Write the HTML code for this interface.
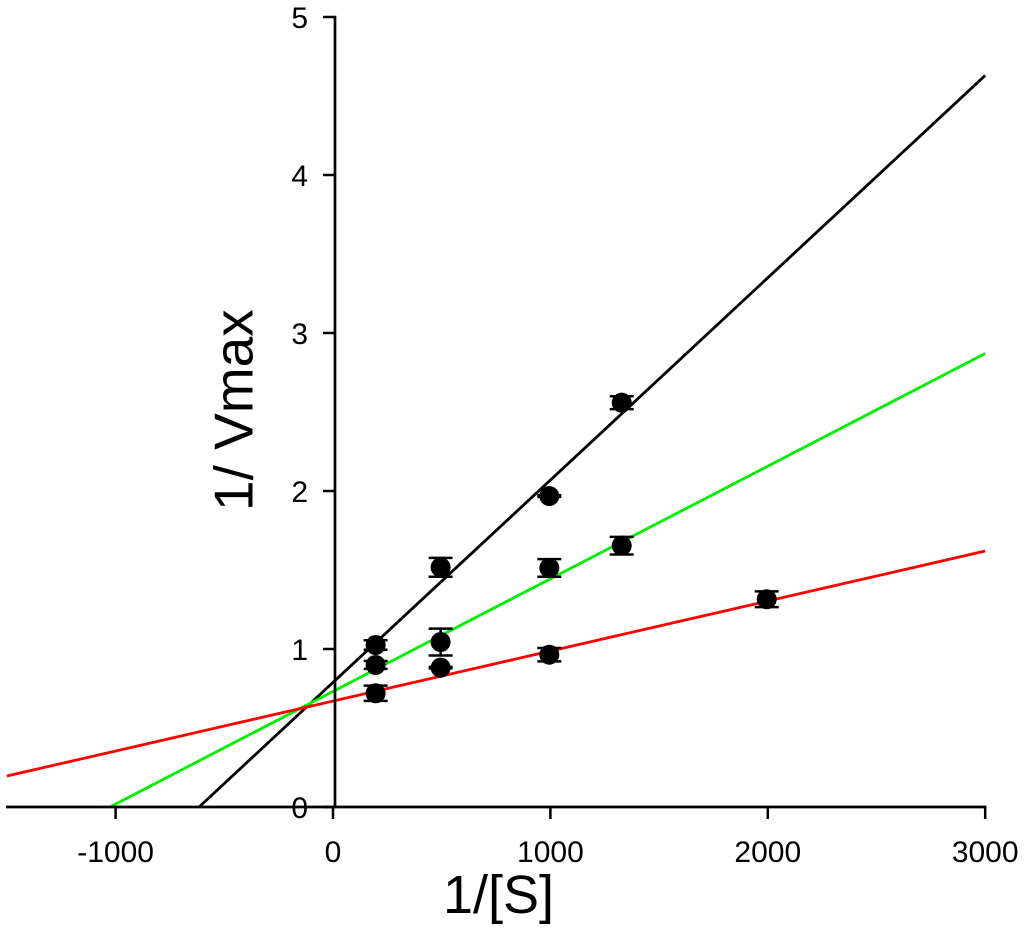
<!DOCTYPE html>
<html>
<head>
<meta charset="utf-8">
<title>Lineweaver-Burk plot</title>
<style>
html,body{margin:0;padding:0;background:#fff;width:1024px;height:931px;overflow:hidden}
svg{display:block}
text{font-family:"Liberation Sans",Arial,sans-serif;fill:#000}
</style>
</head>
<body>
<svg id="chart" xmlns="http://www.w3.org/2000/svg" width="1024" height="931" viewBox="0 0 1024 931"></svg>
<script>
const xTickValues = [-1000, 0, 1000, 2000, 3000];
const yTickValues = [0, 1, 2, 3, 4, 5];
const xTickLabels = ['-1000', '0', '1000', '2000', '3000'];
const yTickLabels = ['0', '1', '2', '3', '4', '5'];
const xAxisTitle = '1/[S]';
const yAxisTitle = '1/ Vmax';

const blackLineX = [-616, 3000];
const blackLineY = [0, 4.63];
const greenLineX = [-1026, 3000];
const greenLineY = [0, 2.87];
const redLineX = [-1500, 3000];
const redLineY = [0.196, 1.62];

const pointX = [196, 196, 196, 495, 495, 495, 995, 995, 995, 1328, 1328, 1995];
const pointY = [1.025, 0.899, 0.72, 1.517, 1.044, 0.882, 1.968, 1.513, 0.964, 2.559, 1.654, 1.315];
const pointErr = [0.03, 0.025, 0.048, 0.06, 0.085, 0.005, 0.005, 0.056, 0.042, 0.041, 0.056, 0.05];

const NS = 'http://www.w3.org/2000/svg';
const svg = document.getElementById('chart');
function sx(v){ return 333 + v * 0.2174; }
function sy(v){ return 807 - v * 158; }
function mk(tag, attrs){
  const el = document.createElementNS(NS, tag);
  for (const k in attrs) el.setAttribute(k, attrs[k]);
  svg.appendChild(el);
  return el;
}

// series lines
const seriesLines = [
  ['black-fit-line', blackLineX, blackLineY, '#000000'],
  ['green-fit-line', greenLineX, greenLineY, '#00ee00'],
  ['red-fit-line', redLineX, redLineY, '#ff0000']
];
seriesLines.forEach(function(s){
  const line = mk('line', {x1: sx(s[1][0]), y1: sy(s[2][0]), x2: sx(s[1][1]), y2: sy(s[2][1]), stroke: s[3], 'stroke-width': 2.8});
  
  
});

// axes
const xAxis = mk('line', {x1: 6, y1: 807, x2: sx(3000) + 1.2, y2: 807, stroke: '#000', 'stroke-width': 2.7});


const yAxis = mk('line', {x1: 335, y1: sy(5) - 1.2, x2: 335, y2: 807, stroke: '#000', 'stroke-width': 2.7});



// x ticks and labels
xTickValues.forEach(function(v, i){
  const t = mk('line', {x1: sx(v), y1: 807, x2: sx(v), y2: 819, stroke: '#000', 'stroke-width': 2.5});
  
  
  const l = mk('text', {x: sx(v), y: 862, 'font-size': 30, 'text-anchor': 'middle'});
  l.textContent = xTickLabels[i];
  
  
});

// y ticks and labels
yTickValues.forEach(function(v, i){
  const t = mk('line', {x1: 323, y1: sy(v), x2: 335, y2: sy(v), stroke: '#000', 'stroke-width': 2.5});
  
  
  const l = mk('text', {x: 308, y: sy(v) + 11, 'font-size': 30, 'text-anchor': 'end'});
  l.textContent = yTickLabels[i];
  
  
});

// error bars and points
pointX.forEach(function(v, i){
  const cx = sx(v);
  const hi = sy(pointY[i] + pointErr[i]);
  const lo = sy(pointY[i] - pointErr[i]);
  const stem = mk('line', {x1: cx, y1: hi, x2: cx, y2: lo, stroke: '#000', 'stroke-width': 2.5});
  
  
  const capTop = mk('line', {x1: cx - 12, y1: hi, x2: cx + 12, y2: hi, stroke: '#000', 'stroke-width': 2.5});
  
  
  const capBottom = mk('line', {x1: cx - 12, y1: lo, x2: cx + 12, y2: lo, stroke: '#000', 'stroke-width': 2.5});
  
  
  const dot = mk('circle', {cx: cx, cy: sy(pointY[i]), r: 10, fill: '#000'});
  
  
});

// axis titles
const xTitle = mk('text', {x: 443, y: 913, 'font-size': 54});
xTitle.textContent = xAxisTitle;


const yTitle = mk('text', {x: 0, y: 0, 'font-size': 55, transform: 'translate(252.7 511) rotate(-90)'});
yTitle.textContent = yAxisTitle;


</script>
</body>
</html>
